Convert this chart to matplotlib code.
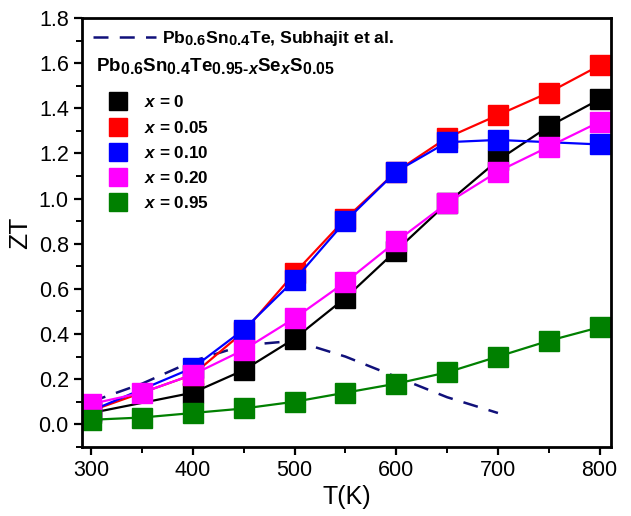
import matplotlib
matplotlib.use("Agg")
import matplotlib.pyplot as plt
from matplotlib.lines import Line2D
import matplotlib._mathtext as _mt

_mt.SHRINK_FACTOR = 0.85

plt.rcParams['font.family'] = ['Liberation Sans', 'DejaVu Sans']
plt.rcParams['mathtext.fontset'] = 'custom'
plt.rcParams['mathtext.rm'] = 'Liberation Sans:bold'
plt.rcParams['mathtext.bf'] = 'Liberation Sans:bold'
plt.rcParams['mathtext.it'] = 'Liberation Sans:italic:bold'
plt.rcParams['mathtext.default'] = 'bf'

# ---- data ----
T_full = [300, 400, 450, 500, 550, 600, 650, 700, 750, 800]
zt_x0 = [0.05, 0.14, 0.24, 0.38, 0.56, 0.77, 0.98, 1.17, 1.32, 1.44]
zt_x005 = [0.06, 0.22, 0.41, 0.67, 0.91, 1.12, 1.27, 1.37, 1.47, 1.59]
T_x010 = [300, 400, 450, 500, 550, 600, 650, 700, 800]
zt_x010 = [0.06, 0.25, 0.42, 0.64, 0.90, 1.12, 1.25, 1.26, 1.24]
T_all = [300, 350, 400, 450, 500, 550, 600, 650, 700, 750, 800]
zt_x020 = [0.09, 0.14, 0.22, 0.33, 0.47, 0.63, 0.81, 0.98, 1.12, 1.23, 1.34]
zt_x095 = [0.02, 0.03, 0.05, 0.07, 0.10, 0.14, 0.18, 0.23, 0.30, 0.37, 0.43]
T_ref = [300, 350, 400, 450, 500, 550, 600, 650, 700]
zt_ref = [0.10, 0.18, 0.28, 0.35, 0.37, 0.30, 0.21, 0.12, 0.05]

labels = [r"$\mathit{x}$ = 0", r"$\mathit{x}$ = 0.05", r"$\mathit{x}$ = 0.10",
          r"$\mathit{x}$ = 0.20", r"$\mathit{x}$ = 0.95"]
colors = ['#000000', '#ff0000', '#0000ff', '#ff00ff', '#008000']
ref_label = r"Pb$_{0.6}$Sn$_{0.4}$Te, Subhajit et al."
formula = r"Pb$_{0.6}$Sn$_{0.4}$Te$_{0.95\text{-}\mathit{x}}$Se$_{\mathit{x}}$S$_{0.05}$"

fig = plt.figure(figsize=(6.31, 5.16), dpi=100)
ax = fig.add_axes([0.130, 0.134, 0.838, 0.831])

ax.plot(T_ref, zt_ref, '--', color='#10107a', lw=1.8, dashes=(6, 4.5), zorder=1)

series = [(T_full, zt_x0), (T_full, zt_x005), (T_x010, zt_x010),
          (T_all, zt_x020), (T_all, zt_x095)]
for (tt, zz), c in zip(series, colors):
    ax.plot(tt, zz, '-', color=c, lw=1.6, marker='s', ms=14, mec=c, mfc=c, zorder=2)

ax.set_xlim(291, 811)
ax.set_ylim(-0.1, 1.8)
ax.set_xticks([300, 400, 500, 600, 700, 800])
ax.set_xticks([350, 450, 550, 650, 750], minor=True)
yt = [0.0, 0.2, 0.4, 0.6, 0.8, 1.0, 1.2, 1.4, 1.6, 1.8]
ax.set_yticks(yt)
ax.set_yticks([-0.1, 0.1, 0.3, 0.5, 0.7, 0.9, 1.1, 1.3, 1.5, 1.7], minor=True)
ax.set_yticklabels([f"{v:.1f}" for v in yt])
ax.tick_params(axis='both', which='major', direction='out', length=6, width=1.6,
               labelsize=15.5, top=False, right=False)
ax.tick_params(axis='both', which='minor', direction='out', length=4, width=1.4,
               top=False, right=False)
for s in ax.spines.values():
    s.set_linewidth(2)
ax.set_xlabel("T(K)", fontsize=18, labelpad=3)
ax.set_ylabel("ZT", fontsize=19, labelpad=5)

h_ref = [Line2D([], [], ls='--', color='#10107a', lw=1.8, dashes=(6, 4.5))]
leg1 = ax.legend(h_ref, [ref_label], loc='upper left', bbox_to_anchor=(0.0, 1.0),
                 frameon=False, fontsize=12.6, handlelength=3.6, handletextpad=0.35,
                 borderaxespad=0.22)
for t in leg1.get_texts():
    t.set_fontweight('bold')
ax.add_artist(leg1)

ax.text(0.026, 0.889, formula, transform=ax.transAxes, fontsize=13.5,
        fontweight='bold', va='center', ha='left')

h_sq = [Line2D([], [], ls='none', marker='s', ms=13, color=c) for c in colors]
leg2 = ax.legend(h_sq, labels, loc='upper left', bbox_to_anchor=(0.032, 0.838),
                 frameon=False, fontsize=12.3, handlelength=1.4, handletextpad=0.85,
                 labelspacing=0.54, borderaxespad=0.0)
for t in leg2.get_texts():
    t.set_fontweight('bold')

fig.savefig("out.png", dpi=100)
